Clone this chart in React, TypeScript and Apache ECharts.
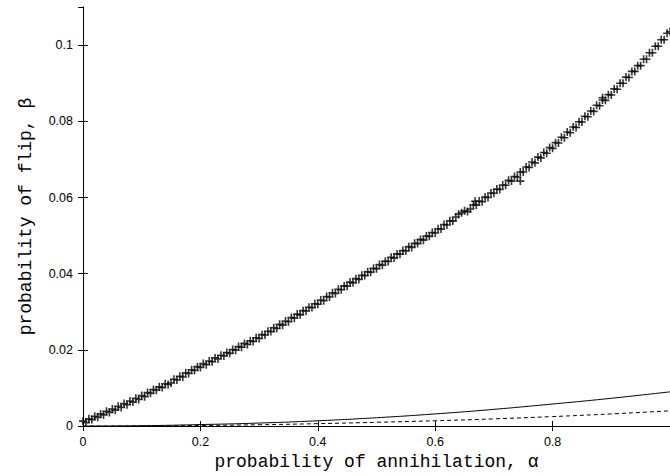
import React, { useEffect, useRef } from "react";
import * as echarts from "echarts";

// Monte-Carlo estimate of beta, sampled every 0.005 in alpha (rows of 0.05)
const simStep = 0.005;
const simBeta: number[] = [
  0.0013, 0.0009, 0.0019, 0.0017, 0.0026, 0.0023, 0.0032, 0.0029, 0.0039, 0.0036,
  0.0045, 0.0042, 0.0052, 0.0049, 0.0059, 0.0056, 0.0066, 0.0063, 0.0073, 0.0070,
  0.0080, 0.0077, 0.0088, 0.0086, 0.0096, 0.0094, 0.0103, 0.0101, 0.0111, 0.0109,
  0.0113, 0.0123, 0.0121, 0.0131, 0.0129, 0.0140, 0.0138, 0.0148, 0.0146, 0.0156,
  0.0154, 0.0164, 0.0161, 0.0171, 0.0169, 0.0179, 0.0176, 0.0186, 0.0184, 0.0193,
  0.0191, 0.0201, 0.0199, 0.0209, 0.0207, 0.0217, 0.0214, 0.0224, 0.0222, 0.0232,
  0.0230, 0.0240, 0.0239, 0.0249, 0.0248, 0.0258, 0.0256, 0.0267, 0.0265, 0.0276,
  0.0274, 0.0285, 0.0283, 0.0294, 0.0292, 0.0303, 0.0302, 0.0312, 0.0311, 0.0321,
  0.0320, 0.0331, 0.0329, 0.0340, 0.0339, 0.0350, 0.0348, 0.0359, 0.0358, 0.0368,
  0.0367, 0.0378, 0.0376, 0.0387, 0.0385, 0.0396, 0.0395, 0.0405, 0.0404, 0.0414,
  0.0413, 0.0424, 0.0422, 0.0433, 0.0432, 0.0443, 0.0441, 0.0452, 0.0451, 0.0461,
  0.0460, 0.0471, 0.0469, 0.0480, 0.0479, 0.0490, 0.0488, 0.0499, 0.0498, 0.0508,
  0.0507, 0.0518, 0.0517, 0.0529, 0.0528, 0.0539, 0.0538, 0.0549, 0.0556, 0.0560,
  0.0565, 0.0563, 0.0570, 0.0581, 0.0580, 0.0591, 0.0589, 0.0601, 0.0600, 0.0612,
  0.0611, 0.0622, 0.0621, 0.0633, 0.0632, 0.0645, 0.0643, 0.0655, 0.0654, 0.0667,
  0.0667, 0.0680, 0.0679, 0.0693, 0.0691, 0.0706, 0.0704, 0.0718, 0.0716, 0.0731,
  0.0729, 0.0744, 0.0743, 0.0758, 0.0757, 0.0772, 0.0770, 0.0785, 0.0784, 0.0799,
  0.0798, 0.0813, 0.0812, 0.0827, 0.0826, 0.0842, 0.0841, 0.0856, 0.0855, 0.0870,
  0.0869, 0.0885, 0.0884, 0.0900, 0.0900, 0.0916, 0.0915, 0.0931, 0.0931, 0.0946,
  0.0946, 0.0963, 0.0963, 0.0980, 0.0980, 0.0997, 0.0997, 0.1014, 0.1014, 0.1031,
  0.1035,
];
const simOutliers: [number, number][] = [
  [0.745, 0.0643],
  [0.668, 0.0590],
  [0.885, 0.0862],
];

// Theoretical curves
const curveAlpha: number[] = [0, 0.1, 0.2, 0.3, 0.4, 0.5, 0.6, 0.7, 0.8, 0.9, 1.0];
const solidBeta: number[] = [0, 0.0001, 0.0004, 0.0008, 0.0014, 0.0022, 0.0032, 0.0044, 0.0058, 0.0073, 0.0090];
const dashedBeta: number[] = [0, 0.00004, 0.00016, 0.00036, 0.00064, 0.0010, 0.0014, 0.0019, 0.0025, 0.0032, 0.0040];

const PLUS = "path://M4,0H6V4H10V6H6V10H4V6H0V4H4Z";

export default function App() {
  const ref = useRef<HTMLDivElement>(null);
  useEffect(() => {
    if (!ref.current) return;
    const chart = echarts.init(ref.current, undefined, { renderer: "svg" });
    const simData: [number, number][] = simBeta.map((b, i) => [
      Math.round(i * simStep * 1000) / 1000,
      b,
    ]);
    const all = simData.concat(simOutliers);
    const grid = { left: 83, top: 7, width: 587.5, height: 421 };
    const labelStyle = {
      color: "#000",
      fontFamily: "Liberation Sans, Arial, sans-serif",
      fontSize: 12.5,
    };
    const tick = { show: true, inside: true, length: 5, lineStyle: { color: "#000", width: 1 } };
    const line = { show: true, lineStyle: { color: "#000", width: 1 } };
    chart.setOption({
      animation: false,
      backgroundColor: "#fff",
      grid,
      xAxis: [
        {
          type: "value",
          min: 0,
          max: 1,
          interval: 0.2,
          position: "bottom",
          axisLine: line,
          axisTick: tick,
          splitLine: { show: false },
          axisLabel: { ...labelStyle, margin: 9, showMaxLabel: false },
          name: "probability of annihilation, α",
          nameLocation: "middle",
          nameGap: 25,
          nameTextStyle: {
            color: "#000",
            fontFamily: "Liberation Mono, Courier New, monospace",
            fontSize: 18,
          },
        },
        {
          type: "value",
          min: 0,
          max: 1,
          interval: 0.2,
          position: "top",
          axisLine: line,
          axisTick: tick,
          splitLine: { show: false },
          axisLabel: { show: false },
        },
      ],
      yAxis: [
        {
          type: "value",
          min: 0,
          max: 0.11,
          interval: 0.02,
          position: "left",
          axisLine: line,
          axisTick: tick,
          splitLine: { show: false },
          axisLabel: { ...labelStyle, margin: 10, showMaxLabel: false },
          name: "probability of flip, β",
          nameLocation: "middle",
          nameGap: 48,
          nameTextStyle: {
            color: "#000",
            fontFamily: "Liberation Mono, Courier New, monospace",
            fontSize: 18,
          },
        },
        {
          type: "value",
          min: 0,
          max: 0.11,
          interval: 0.02,
          position: "right",
          axisLine: { show: false },
          axisTick: tick,
          splitLine: { show: false },
          axisLabel: { show: false },
        },
      ],
      series: [
        {
          type: "line",
          data: curveAlpha.map((a, i) => [a, solidBeta[i]]),
          smooth: true,
          showSymbol: false,
          lineStyle: { color: "#000", width: 1 },
          z: 3,
        },
        {
          type: "line",
          data: curveAlpha.map((a, i) => [a, dashedBeta[i]]),
          smooth: true,
          showSymbol: false,
          lineStyle: { color: "#000", width: 1, type: [4, 3] },
          z: 3,
        },
        {
          type: "scatter",
          data: all,
          symbol: PLUS,
          symbolSize: 8,
          itemStyle: { color: "#000" },
          z: 4,
        },
      ],
    });
    return () => chart.dispose();
  }, []);
  return (
    <div
      ref={ref}
      style={{ position: "fixed", left: 0, top: 0, width: 670, height: 476, background: "#fff" }}
    />
  );
}
